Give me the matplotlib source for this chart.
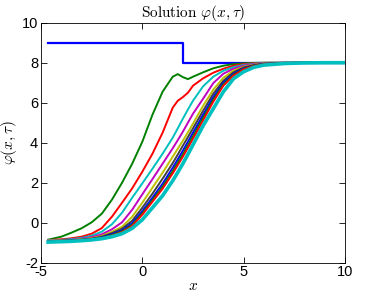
import numpy as np
import matplotlib.pyplot as plt

plt.rcParams['mathtext.fontset'] = 'cm'
plt.rcParams['font.family'] = ['Liberation Sans', 'DejaVu Sans']
plt.rcParams['axes.unicode_minus'] = False

# initial condition (step)
x_step = [-4.65, 2.0, 2.0, 10.0]
y_step = [9.0, 9.0, 8.0, 8.0]

# common x grid for the solution curves
x = [-4.65, -4, -3.5, -3, -2.5, -2, -1.5, -1, -0.5, 0, 0.5, 1, 1.5, 1.75, 2, 2.25,
     2.5, 3, 3.5, 4, 4.5, 5, 5.5, 6, 7, 8, 9, 10]

green1 = [-0.85, -0.7, -0.5, -0.28, 0.02, 0.45, 1.15, 2.0, 2.95, 4.05, 5.4, 6.55, 7.3, 7.43,
          7.28, 7.18, 7.3, 7.52, 7.72, 7.85, 7.93, 7.97, 7.99, 8.0, 8.0, 8.0, 8.0, 8.0]
red1 = [-0.87, -0.83, -0.78, -0.7, -0.55, -0.27, 0.3, 1.0, 1.72, 2.55, 3.45, 4.5, 5.75, 6.1,
        6.28, 6.5, 6.85, 7.22, 7.5, 7.7, 7.85, 7.93, 7.97, 7.99, 8.0, 8.0, 8.0, 8.0]
cyan1 = [-0.88, -0.86, -0.82, -0.76, -0.65, -0.45, -0.08, 0.5, 1.25, 1.97, 2.7, 3.45, 4.25, 4.72,
         5.2, 5.66, 6.1, 6.82, 7.3, 7.6, 7.78, 7.89, 7.95, 7.98, 8.0, 8.0, 8.0, 8.0]
magenta1 = [-0.9, -0.88, -0.85, -0.8, -0.72, -0.58, -0.33, 0.02, 0.65, 1.42, 2.18, 2.95, 3.72, 4.13,
            4.55, 5.0, 5.45, 6.2, 6.98, 7.45, 7.7, 7.85, 7.93, 7.97, 7.995, 8.0, 8.0, 8.0]
yellow1 = [-0.9, -0.89, -0.87, -0.83, -0.77, -0.66, -0.46, -0.2, 0.3, 1.0, 1.75, 2.5, 3.3, 3.7,
           4.1, 4.52, 4.95, 5.85, 6.65, 7.25, 7.6, 7.8, 7.9, 7.96, 7.99, 8.0, 8.0, 8.0]
black1 = [-0.92, -0.9, -0.88, -0.85, -0.8, -0.7, -0.52, -0.3, 0.1, 0.75, 1.45, 2.2, 2.98, 3.41,
          3.85, 4.28, 4.72, 5.6, 6.45, 7.1, 7.52, 7.76, 7.88, 7.95, 7.99, 8.0, 8.0, 8.0]
blue2 = [-0.93, -0.91, -0.89, -0.86, -0.82, -0.74, -0.58, -0.38, -0.02, 0.58, 1.25, 1.95, 2.75, 3.17,
         3.6, 4.05, 4.5, 5.4, 6.28, 7.0, 7.45, 7.72, 7.86, 7.94, 7.98, 8.0, 8.0, 8.0]
green2 = [-0.94, -0.92, -0.9, -0.87, -0.83, -0.76, -0.62, -0.43, -0.1, 0.47, 1.13, 1.8, 2.58, 3.0,
          3.42, 3.87, 4.32, 5.25, 6.15, 6.92, 7.4, 7.69, 7.85, 7.93, 7.98, 8.0, 8.0, 8.0]
red2 = [-0.95, -0.93, -0.91, -0.88, -0.84, -0.78, -0.65, -0.47, -0.16, 0.4, 1.05, 1.7, 2.47, 2.88,
        3.3, 3.75, 4.2, 5.12, 6.05, 6.85, 7.36, 7.67, 7.84, 7.92, 7.98, 8.0, 8.0, 8.0]
cyan2 = [-0.97, -0.95, -0.93, -0.9, -0.86, -0.8, -0.7, -0.55, -0.28, 0.15, 0.75, 1.35, 2.1, 2.52,
         2.95, 3.42, 3.9, 4.85, 5.7, 6.55, 7.2, 7.55, 7.77, 7.88, 7.96, 7.99, 8.0, 8.0]

curves = [green1, red1, cyan1, magenta1, yellow1, black1, blue2, green2, red2]
colors = ['#008000', '#ff0000', '#00bfbf', '#bf00bf', '#bfbf00', '#404040', '#0000ff', '#008000', '#ff0000']

fig = plt.figure(figsize=(3.81, 2.95), dpi=100)
ax = fig.add_axes([0.1076, 0.1095, 0.7979, 0.8135])

ax.plot(x_step, y_step, color='#0000ff', linewidth=1.6)
for yy, col in zip(curves, colors):
    ax.plot(x, yy, color=col, linewidth=1.4)
ax.plot(x, cyan2, color='#00bfbf', linewidth=2.6)

ax.set_xlim(-5, 10)
ax.set_ylim(-2, 10)
ax.set_xticks([-5, 0, 5, 10])
ax.set_yticks([-2, 0, 2, 4, 6, 8, 10])
ax.tick_params(direction='in', top=True, right=True, labelsize=10.5, length=4, width=0.6, pad=2)
for s in ax.spines.values():
    s.set_linewidth(0.6)

ax.set_title(r'$\mathrm{Solution}\ \varphi(x,\tau)$', fontsize=11, pad=4)
ax.set_xlabel(r'$x$', fontsize=11, labelpad=0)
ax.set_ylabel(r'$\varphi(x,\tau)$', fontsize=11, labelpad=2)

fig.savefig('out.png', dpi=100)
